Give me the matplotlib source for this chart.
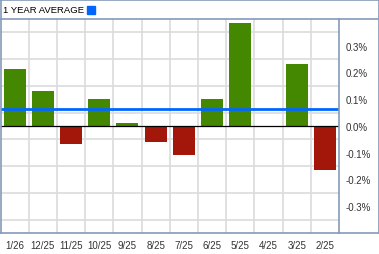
import numpy as np
import matplotlib.pyplot as plt
from matplotlib.patches import Rectangle
from matplotlib.lines import Line2D

# Data (percent)
months = ["1/26", "12/25", "11/25", "10/25", "9/25", "8/25",
          "7/25", "6/25", "5/25", "4/25", "3/25", "2/25"]
returns = [0.213, 0.131, -0.066, 0.102, 0.012, -0.058,
           -0.107, 0.102, 0.384, 0.0, 0.232, -0.165]
average = 0.064
ytick_vals = [0.3, 0.2, 0.1, 0.0, -0.1, -0.2, -0.3]
title = "1 YEAR AVERAGE"

W, H = 379, 255
fig = plt.figure(figsize=(W / 100, H / 100), dpi=100)
plt.rcParams['font.family'] = ['Liberation Sans', 'DejaVu Sans']

border = "#8499b9"
grid_c = "#dcdcdc"

# plot area in pixels: x 0..339, y 20..234
ax = fig.add_axes([0.5 / W, 1 - 234 / H, 338.5 / W, 214 / H])
ax.set_xlim(-0.5, len(months) - 0.5)
ax.set_ylim(-0.4, 0.4)

x = np.arange(len(months))
colors = ["#438800" if v >= 0 else "#a3170a" for v in returns]
ax.bar(x, returns, width=0.78, color=colors, zorder=3)

# grid
ax.set_yticks(np.arange(-0.35, 0.4, 0.05), minor=True)
ax.set_xticks(np.arange(0.5, len(months) - 0.5, 1), minor=True)
ax.grid(which="minor", color=grid_c, linewidth=1.2, zorder=0)
ax.tick_params(which="minor", length=0)

ax.axhline(0, color="black", linewidth=0.9, zorder=4)
ax.axhline(average, color="#0066ff", linewidth=2.0, zorder=5)

ax.set_xticks(x)
ax.set_xticklabels(months)
ax.yaxis.tick_right()
ax.set_yticks(ytick_vals)
ax.set_yticklabels([f"{v:.1f}%" for v in ytick_vals])
ax.tick_params(axis="both", which="major", length=0, labelsize=7,
               labelcolor="#333333")
ax.tick_params(axis="x", pad=5)
ax.tick_params(axis="y", pad=5)
for s in ax.spines.values():
    s.set_visible(False)

# frame around header, plot and label column
def px_line(x0, y0, x1, y1):
    fig.add_artist(Line2D([x0 / W, x1 / W], [1 - y0 / H, 1 - y1 / H],
                          color=border, linewidth=1.2))

px_line(0.5, 0.5, 378.5, 0.5)
px_line(0.5, 0.5, 0.5, 234)
px_line(378.5, 0.5, 378.5, 234)
px_line(0.5, 234, 378.5, 234)
px_line(0.5, 20, 378.5, 20)
px_line(339, 20, 339, 234)

fig.text(3 / W, 1 - 10.5 / H, title, fontsize=6.8, color="black",
         va="center", ha="left")
fig.add_artist(Rectangle((87 / W, 1 - 14.5 / H), 8 / W, 8 / H,
                         color="#0066ff", transform=fig.transFigure))

fig.savefig("out.png", dpi=100)
